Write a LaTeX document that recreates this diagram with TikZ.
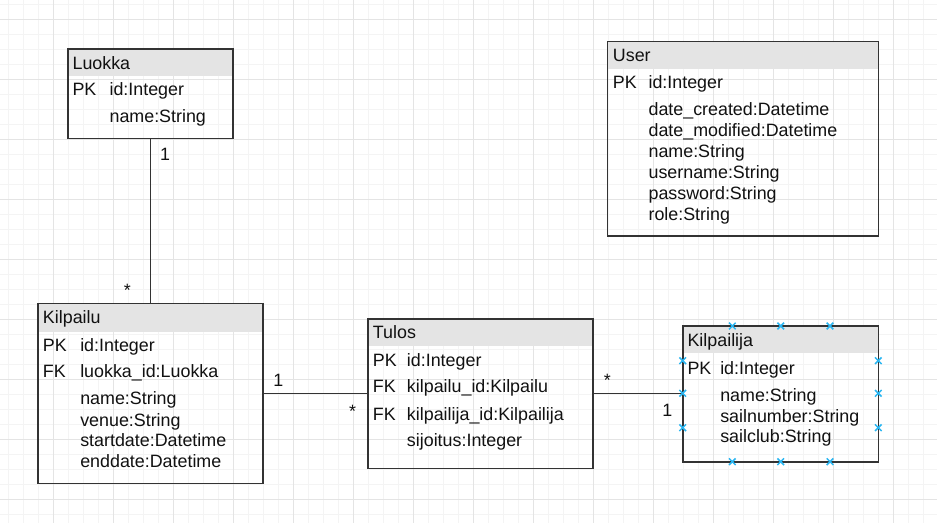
\documentclass[tikz,border=0pt]{standalone}
\usepackage{fontspec}
\setmainfont{Liberation Sans}
\usetikzlibrary{fit}
\definecolor{gridminor}{HTML}{F4F4F4}
\definecolor{gridmajor}{HTML}{E4E4E4}
\definecolor{hdrfill}{HTML}{E4E4E4}
\definecolor{boxline}{HTML}{333333}
\definecolor{txtcol}{HTML}{111111}
\definecolor{hoverblue}{HTML}{29B6F2}
\tikzset{
  entity/.style={draw=boxline, line width=1.2pt, inner sep=0pt, outer sep=0pt},
  hdr/.style={fill=hdrfill},
  txt/.style={anchor=base west, inner sep=0pt, text=txtcol, font=\fontsize{13.4pt}{15.7pt}\selectfont},
  mult/.style={anchor=base, inner sep=0pt, text=txtcol, font=\fontsize{13.4pt}{15.7pt}\selectfont},
  conn/.style={draw=boxline, line width=1.2pt},
  hov/.style={draw=hoverblue, line width=1.1pt},
}
\begin{document}
\begin{tikzpicture}[x=0.75pt, y=-0.75pt]
\useasboundingbox (0,0) rectangle (937,523);
\fill[white] (0,0) rectangle (937,523);
% grid
\foreach \gx in {8.3,23.3,...,937} \draw[gridminor, line width=0.75pt] (\gx,0) -- (\gx,523);
\foreach \gy in {4.3,19.3,...,523} \draw[gridminor, line width=0.75pt] (0,\gy) -- (937,\gy);
\foreach \gx in {53.3,113.3,...,937} \draw[gridmajor, line width=0.75pt] (\gx,0) -- (\gx,523);
\foreach \gy in {19.3,79.3,...,523} \draw[gridmajor, line width=0.75pt] (0,\gy) -- (937,\gy);

% ---------- Luokka
\coordinate (luokka-nw) at (68,49.3);
\coordinate (luokka-se) at (232.7,138.7);
\fill[hdr] (luokka-nw) rectangle (232.7,76);
\node[entity, fit=(luokka-nw)(luokka-se)] (luokka) {};
\node[txt] (luokka-h) at (72.3,69.3) {Luokka};
\node[txt] (luokka-pk) at (72.3,96) {PK};
\node[txt] (luokka-f1) at (109.3,96) {id:Integer};
\node[txt] (luokka-f2) at (109.3,122.7) {name:String};

% ---------- User
\coordinate (user-nw) at (607.3,41.7);
\coordinate (user-se) at (878.3,236);
\fill[hdr] (user-nw) rectangle (878.3,69.3);
\node[entity, fit=(user-nw)(user-se)] (user) {};
\node[txt] (user-h) at (612.7,61.7) {User};
\node[txt] (user-pk) at (612.7,89) {PK};
\node[txt] (user-f1) at (648.3,89) {id:Integer};
\node[txt] (user-f2) at (648.3,116) {date\_created:Datetime};
\node[txt] (user-f3) at (648.3,137) {date\_modified:Datetime};
\node[txt] (user-f4) at (648.3,158) {name:String};
\node[txt] (user-f5) at (648.3,179) {username:String};
\node[txt] (user-f6) at (648.3,200) {password:String};
\node[txt] (user-f7) at (648.3,220.7) {role:String};

% ---------- Kilpailu
\coordinate (kilpailu-nw) at (37.7,303.7);
\coordinate (kilpailu-se) at (262.7,483.3);
\fill[hdr] (kilpailu-nw) rectangle (262.7,331.7);
\node[entity, fit=(kilpailu-nw)(kilpailu-se)] (kilpailu) {};
\node[txt] (kilpailu-h) at (42.7,324) {Kilpailu};
\node[txt] (kilpailu-pk) at (42.7,351) {PK};
\node[txt] (kilpailu-f1) at (80,351) {id:Integer};
\node[txt] (kilpailu-fk) at (42.7,377.7) {FK};
\node[txt] (kilpailu-f2) at (80,377.7) {luokka\_id:Luokka};
\node[txt] (kilpailu-f3) at (80,404.3) {name:String};
\node[txt] (kilpailu-f4) at (80,426) {venue:String};
\node[txt] (kilpailu-f5) at (80,446.7) {startdate:Datetime};
\node[txt] (kilpailu-f6) at (80,467.3) {enddate:Datetime};

% ---------- Tulos
\coordinate (tulos-nw) at (367.7,319);
\coordinate (tulos-se) at (593,468.3);
\fill[hdr] (tulos-nw) rectangle (593,346);
\node[entity, fit=(tulos-nw)(tulos-se)] (tulos) {};
\node[txt] (tulos-h) at (372.7,339) {Tulos};
\node[txt] (tulos-pk) at (372.7,366) {PK};
\node[txt] (tulos-f1) at (406.7,366) {id:Integer};
\node[txt] (tulos-fk1) at (372.7,392.7) {FK};
\node[txt] (tulos-f2) at (406.7,392.7) {kilpailu\_id:Kilpailu};
\node[txt] (tulos-fk2) at (372.7,420) {FK};
\node[txt] (tulos-f3) at (406.7,420) {kilpailija\_id:Kilpailija};
\node[txt] (tulos-f4) at (406.7,446.7) {sijoitus:Integer};

% ---------- Kilpailija
\coordinate (kilpailija-nw) at (682.7,326);
\coordinate (kilpailija-se) at (878.3,461.7);
\fill[hdr] (kilpailija-nw) rectangle (878.3,353.3);
\node[entity, fit=(kilpailija-nw)(kilpailija-se)] (kilpailija) {};
\node[txt] (kilpailija-h) at (687.3,346.7) {Kilpailija};
\node[txt] (kilpailija-pk) at (687.3,374) {PK};
\node[txt] (kilpailija-f1) at (720,374) {id:Integer};
\node[txt] (kilpailija-f2) at (720,401) {name:String};
\node[txt] (kilpailija-f3) at (720,422.3) {sailnumber:String};
\node[txt] (kilpailija-f4) at (720,442.7) {sailclub:String};

% ---------- connectors
\draw[conn] (luokka.south) -- (luokka.south |- kilpailu.north);
\draw[conn] (kilpailu.east |- 0,393.3) -- (tulos.west |- 0,393.3);
\draw[conn] (tulos.east |- 0,393.3) -- (kilpailija.west |- 0,393.3);

% multiplicities
\node[mult] (m1) at (165,160.7) {1};
\node[mult] (m2) at (127.3,296.5) {*};
\node[mult] (m3) at (278.3,386) {1};
\node[mult] (m4) at (352.7,417.3) {*};
\node[mult] (m5) at (607.3,386.7) {*};
\node[mult] (m6) at (667.3,416) {1};

% hover connection markers on Kilpailija
\foreach \mx/\my in {732.3/326, 780.7/326, 830/326, 732.3/461.7, 780.7/461.7, 830/461.7,
                     682.7/360.7, 682.7/393.3, 682.7/427.7, 878.3/360.7, 878.3/393.3, 878.3/427.7}
  \draw[hov] (\mx-3.3,\my-3.3) -- (\mx+3.3,\my+3.3) (\mx-3.3,\my+3.3) -- (\mx+3.3,\my-3.3);
\end{tikzpicture}
\end{document}
